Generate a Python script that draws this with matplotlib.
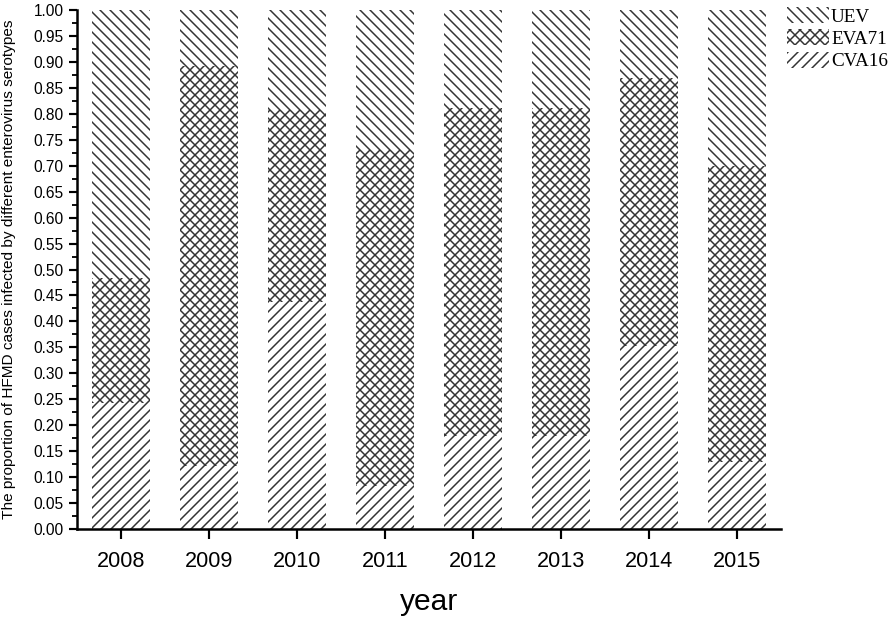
import matplotlib
matplotlib.use("Agg")
import matplotlib.pyplot as plt
import numpy as np
from matplotlib.ticker import MultipleLocator, FormatStrFormatter

years = ["2008", "2009", "2010", "2011", "2012", "2013", "2014", "2015"]
cva16 = [0.243, 0.121, 0.437, 0.083, 0.179, 0.179, 0.353, 0.129]
eva71 = [0.241, 0.771, 0.370, 0.647, 0.632, 0.632, 0.516, 0.571]
uev = [0.516, 0.108, 0.193, 0.270, 0.189, 0.189, 0.131, 0.300]

DPI = 120
plt.rcParams['hatch.linewidth'] = 0.9
fig = plt.figure(figsize=(894 / DPI, 618 / DPI), dpi=DPI)
ax = fig.add_axes([77 / 894, 89 / 618, (781 - 77) / 894, (529 - 10) / 618])

x = np.arange(1, len(years) + 1)
w = 0.65
hc = '#333333'
b1 = ax.bar(x, cva16, w, facecolor='white', edgecolor=hc, hatch='////', linewidth=0, label='CVA16')
b2 = ax.bar(x, eva71, w, bottom=cva16, facecolor='white', edgecolor=hc, hatch='xxxx', linewidth=0, label='EVA71')
bot3 = np.array(cva16) + np.array(eva71)
b3 = ax.bar(x, uev, w, bottom=bot3, facecolor='white', edgecolor=hc, hatch='\\\\\\\\', linewidth=0, label='UEV')

ax.set_xlim(0.5, 8.5)
ax.set_ylim(0, 1.0)
ax.set_xticks(x)
ax.set_xticklabels(years, fontsize=13, family='Liberation Sans')
ax.yaxis.set_major_locator(MultipleLocator(0.05))
ax.yaxis.set_minor_locator(MultipleLocator(0.025))
ax.yaxis.set_major_formatter(FormatStrFormatter('%.2f'))
for lab in ax.get_yticklabels():
    lab.set_family('Liberation Sans')
    lab.set_fontsize(9.3)
ax.tick_params(axis='y', which='major', direction='out', length=5, width=1.3, pad=3)
ax.tick_params(axis='y', which='minor', direction='out', length=3, width=1.1)
ax.tick_params(axis='x', which='major', direction='out', length=6, width=1.3, pad=7)
for s in ['top', 'right']:
    ax.spines[s].set_visible(False)
for s in ['left', 'bottom']:
    ax.spines[s].set_linewidth(1.5)

ax.set_xlabel('year', fontsize=18, family='Liberation Sans', labelpad=10)
ax.set_ylabel('The proportion of HFMD cases infected by different enterovirus serotypes',
              fontsize=9.2, family='Liberation Sans')
ax.yaxis.set_label_coords(-0.086, 0.5)

fig.legend(handles=[b3, b2, b1], labels=['UEV', 'EVA71', 'CVA16'],
           loc='upper left', bbox_to_anchor=(787 / 894, 1 - 7 / 618),
           frameon=False, prop={'family': 'Liberation Serif', 'size': 11.5},
           handlelength=2.2, handleheight=0.9, handletextpad=0.1,
           labelspacing=0.2, borderaxespad=0, borderpad=0)

fig.savefig('out.png', dpi=DPI)
